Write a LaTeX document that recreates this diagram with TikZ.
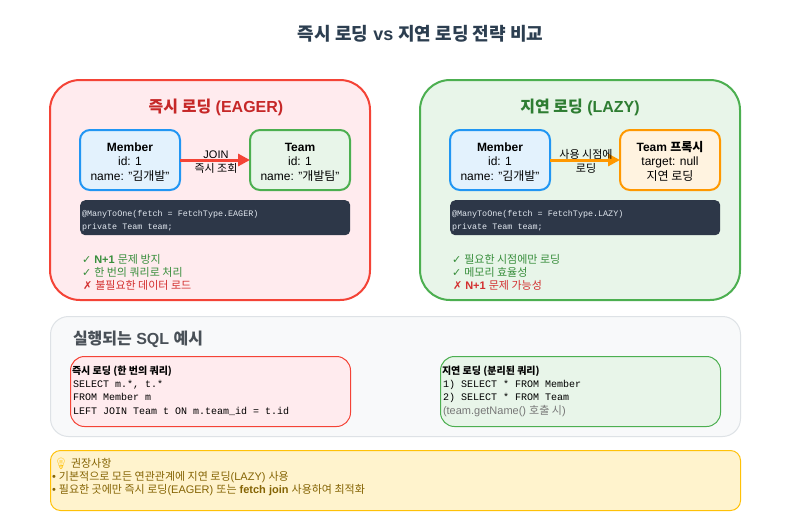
\documentclass[tikz,border=0pt]{standalone}
\usepackage{fontspec}
\setmainfont{Liberation Sans}
\newfontfamily\krf{Noto Sans CJK KR}
\newfontfamily\monof{Liberation Mono}
\newfontfamily\symf{DejaVu Sans}
\newfontfamily\emojif{Noto Emoji}
\newcommand\kr[1]{{\krf #1}}
\newcommand\okm{{\symf ✓}}
\newcommand\nom{{\symf ✗}}
\definecolor{eagerfill}{HTML}{FFEBEE}
\definecolor{eagerline}{HTML}{F44336}
\definecolor{eagertitle}{HTML}{C62828}
\definecolor{lazyfill}{HTML}{E8F5E9}
\definecolor{lazyline}{HTML}{4CAF50}
\definecolor{lazytitle}{HTML}{2E7D32}
\definecolor{memfill}{HTML}{E3F2FD}
\definecolor{memline}{HTML}{2196F3}
\definecolor{proxfill}{HTML}{FFF3E0}
\definecolor{proxline}{HTML}{FF9800}
\definecolor{codefill}{HTML}{2D3748}
\definecolor{codetext}{HTML}{E2E8F0}
\definecolor{panelfill}{HTML}{F8F9FA}
\definecolor{panelline}{HTML}{DEE2E6}
\definecolor{paneltitle}{HTML}{495057}
\definecolor{tipfill}{HTML}{FFF3CD}
\definecolor{tipline}{HTML}{FFC107}
\definecolor{tiptext}{HTML}{856404}
\definecolor{titlecol}{HTML}{2C3E50}
\definecolor{goodcol}{HTML}{388E3C}
\definecolor{badcol}{HTML}{D32F2F}
\definecolor{graycol}{HTML}{777777}
\usetikzlibrary{arrows.meta}
\tikzset{
  boxbase/.style={draw,inner sep=0pt,outer sep=0pt,anchor=north west},
  bigbox/.style={boxbase,line width=2pt,rounded corners=30pt,minimum width=320pt,minimum height=220pt},
  entity/.style={boxbase,line width=2pt,rounded corners=10pt,minimum width=100pt,minimum height=60pt},
  codebox/.style={anchor=north west,fill=codefill,rounded corners=5pt,minimum width=270pt,minimum height=35pt,inner sep=0pt},
  sqlbox/.style={boxbase,line width=1pt,rounded corners=14pt,minimum width=280pt,minimum height=70pt},
  txt/.style={anchor=base,inner sep=0pt,outer sep=0pt,font=\fontsize{12}{15}\selectfont},
  left txt/.style={txt,anchor=base west},
  codetxt/.style={left txt,font=\monof\fontsize{8.4}{11}\selectfont,text=codetext},
  sqltxt/.style={left txt,font=\monof\fontsize{10}{13}\selectfont},
  listtxt/.style={left txt,font=\fontsize{11}{13}\selectfont},
  labeltxt/.style={txt,font=\fontsize{11}{13}\selectfont},
  tiptxt/.style={left txt,text=tiptext,font=\fontsize{11}{13}\selectfont},
  arrowline/.style={line width=3pt,-{Triangle[length=12pt,width=12pt]}}
}
\begin{document}
\begin{tikzpicture}[x=1pt,y=-1pt]
\useasboundingbox (0,0) rectangle (791,531);
\fill[white] (0,0) rectangle (791,531);
\node[txt,text=titlecol,font=\bfseries\fontsize{18}{22}\selectfont] (title) at (420.5,40) {\kr{즉시 로딩} vs \kr{지연 로딩 전략 비교}};
% eager
\node[bigbox,fill=eagerfill,draw=eagerline] (eager) at (50,80) {};
\node[txt,text=eagertitle,font=\bfseries\fontsize{16}{20}\selectfont] (eagerT) at (216,112) {\kr{즉시 로딩} (EAGER)};
\node[entity,fill=memfill,draw=memline] (m1) at (80,130) {};
\node[entity,fill=lazyfill,draw=lazyline] (t1) at (250,130) {};
\node[txt,font=\bfseries\fontsize{12}{15}\selectfont] (m1a) at (130,151) {Member};
\node[txt] (m1b) at (130,165) {id: 1};
\node[txt] (m1c) at (130,180) {name: "\kr{김개발}"};
\node[txt,font=\bfseries\fontsize{12}{15}\selectfont] (t1a) at (300,151) {Team};
\node[txt] (t1b) at (300,165) {id: 1};
\node[txt] (t1c) at (300,180) {name: "\kr{개발팀}"};
\draw[arrowline,draw=eagerline] (m1.east) -- (t1.west);
\node[labeltxt] (l1a) at (216,158) {JOIN};
\node[labeltxt] (l1b) at (216,172) {\kr{즉시 조회}};
\node[codebox] (c1) at (80,200) {};
\node[codetxt] (c1a) at (82,216) {@ManyToOne(fetch = FetchType.EAGER)};
\node[codetxt] (c1b) at (82,229) {private Team team;};
\node[listtxt,text=goodcol] (e1) at (82,263) {\okm\ \textbf{N+1} \kr{문제 방지}};
\node[listtxt,text=goodcol] (e2) at (82,276) {\okm\ \kr{한 번의 쿼리로 처리}};
\node[listtxt,text=badcol] (e3) at (83,289) {\nom\ \kr{불필요한 데이터 로드}};
% lazy
\node[bigbox,fill=lazyfill,draw=lazyline] (lazy) at (420,80) {};
\node[txt,text=lazytitle,font=\bfseries\fontsize{16}{20}\selectfont] (lazyT) at (580,112) {\kr{지연 로딩} (LAZY)};
\node[entity,fill=memfill,draw=memline] (m2) at (450,130) {};
\node[entity,fill=proxfill,draw=proxline] (t2) at (620,130) {};
\node[txt,font=\bfseries\fontsize{12}{15}\selectfont] (m2a) at (500,151) {Member};
\node[txt] (m2b) at (500,165) {id: 1};
\node[txt] (m2c) at (500,180) {name: "\kr{김개발}"};
\node[txt,font=\bfseries\fontsize{12}{15}\selectfont] (t2a) at (670,151) {Team \kr{프록시}};
\node[txt] (t2b) at (670,165) {target: null};
\node[txt] (t2c) at (670,180) {\kr{지연 로딩}};
\draw[arrowline,draw=proxline] (m2.east) -- (t2.west);
\node[labeltxt] (l2a) at (586,158) {\kr{사용 시점에}};
\node[labeltxt] (l2b) at (586,172) {\kr{로딩}};
\node[codebox] (c2) at (450,200) {};
\node[codetxt] (c2a) at (452,216) {@ManyToOne(fetch = FetchType.LAZY)};
\node[codetxt] (c2b) at (452,229) {private Team team;};
\node[listtxt,text=goodcol] (z1) at (452,263) {\okm\ \kr{필요한 시점에만 로딩}};
\node[listtxt,text=goodcol] (z2) at (452,276) {\okm\ \kr{메모리 효율성}};
\node[listtxt,text=badcol] (z3) at (453,289) {\nom\ \textbf{N+1} \kr{문제 가능성}};
% sql
\node[boxbase,line width=1pt,rounded corners=18pt,fill=panelfill,draw=panelline,minimum width=690pt,minimum height=120pt] (panel) at (50.5,316.5) {};
\node[left txt,text=paneltitle,font=\bfseries\fontsize{16}{20}\selectfont] (panelT) at (73,344) {\kr{실행되는} SQL \kr{예시}};
\node[sqlbox,fill=eagerfill,draw=eagerline] (s1) at (70.5,356.5) {};
\node[left txt,font=\bfseries\fontsize{10}{13}\selectfont] (s1a) at (72,374) {\kr{즉시 로딩 (한 번의 쿼리)}};
\node[sqltxt] (s1b) at (73,387) {SELECT m.*, t.*};
\node[sqltxt] (s1c) at (73,400) {FROM Member m};
\node[sqltxt] (s1d) at (73,414) {LEFT JOIN Team t ON m.team\_id = t.id};
\node[sqlbox,fill=lazyfill,draw=lazyline] (s2) at (440.5,356.5) {};
\node[left txt,font=\bfseries\fontsize{10}{13}\selectfont] (s2a) at (442,374) {\kr{지연 로딩 (분리된 쿼리)}};
\node[sqltxt] (s2b) at (443,387) {1) SELECT * FROM Member};
\node[sqltxt] (s2c) at (443,400) {2) SELECT * FROM Team};
\node[left txt,text=graycol,font=\fontsize{11}{13}\selectfont] (s2d) at (443,414) {(team.getName() \kr{호출 시})};
% tip
\node[boxbase,line width=1pt,rounded corners=10pt,fill=tipfill,draw=tipline,minimum width=690pt,minimum height=60pt] (tip) at (50.5,450.5) {};
\node[left txt,text=tipline,font=\emojif\fontsize{11}{13}\selectfont] (bulb) at (54,467) {💡};
\node[tiptxt] (tipa) at (71,467) {\kr{권장사항}};
\node[tiptxt] (tipb) at (52,480) {• \kr{기본적으로 모든 연관관계에 지연 로딩}(LAZY) \kr{사용}};
\node[tiptxt] (tipc) at (52,493) {• \kr{필요한 곳에만 즉시 로딩}(EAGER) \kr{또는} \textbf{fetch join} \kr{사용하여 최적화}};
\end{tikzpicture}
\end{document}
